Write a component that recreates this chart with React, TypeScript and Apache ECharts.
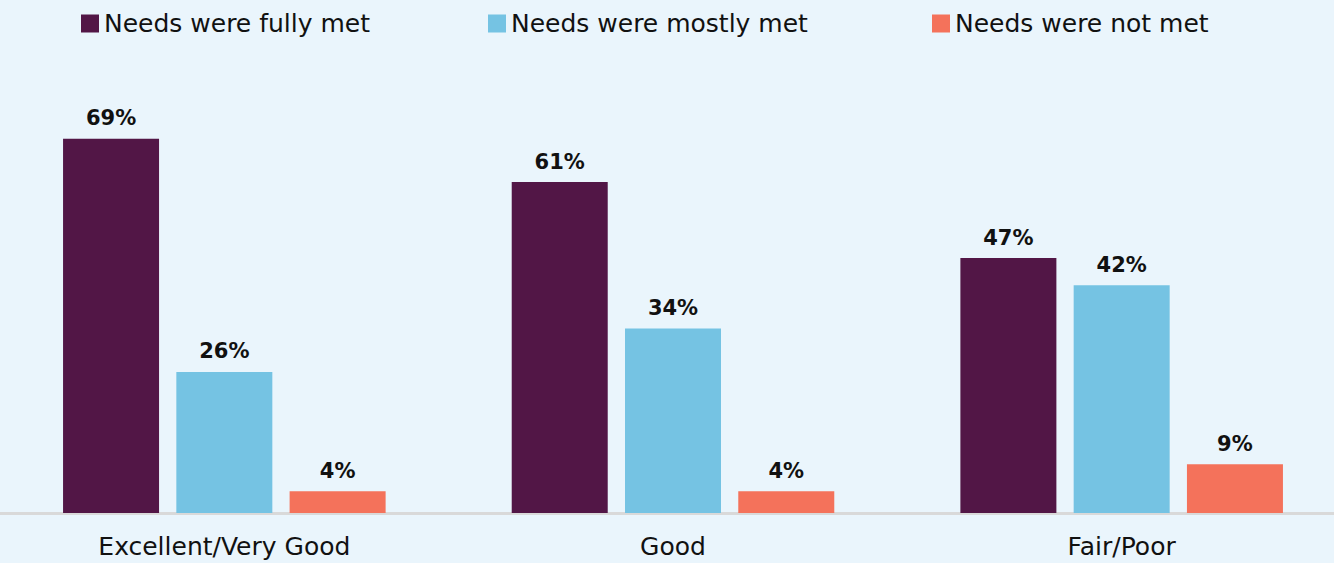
import React, { useEffect, useRef } from "react";
import * as echarts from "echarts";

const categories = ["Excellent/Very Good", "Good", "Fair/Poor"];
const seriesNames = ["Needs were fully met", "Needs were mostly met", "Needs were not met"];
const fullyMet = [69, 61, 47];
const mostlyMet = [26, 34, 42];
const notMet = [4, 4, 9];
const colors = ["#521646", "#75C3E3", "#F4725B"];
const legendLefts = [81, 488, 932];

const FONT = "'DejaVu Sans', sans-serif";

export default function App() {
  const ref = useRef<HTMLDivElement>(null);
  useEffect(() => {
    document.body.style.margin = "0";
    if (!ref.current) return;
    const chart = echarts.init(ref.current, null, { renderer: "svg" });
    const values = [fullyMet, mostlyMet, notMet];
    chart.setOption({
      animation: false,
      backgroundColor: "#EAF5FC",
      textStyle: { fontFamily: FONT },
      legend: seriesNames.map((n, i) => ({
        data: [n],
        left: legendLefts[i],
        top: 11,
        padding: 0,
        icon: "rect",
        itemWidth: 18,
        itemHeight: 18,
        selectedMode: false,
        textStyle: { fontSize: 25, color: "#111", fontFamily: FONT },
      })),
      grid: { left: 0, right: 0, top: 79, bottom: 50, containLabel: false },
      xAxis: {
        type: "category",
        data: categories,
        axisTick: { show: false },
        axisLine: { lineStyle: { color: "#D9D9D9", width: 3 } },
        axisLabel: { fontSize: 25, color: "#111", margin: 21, fontFamily: FONT },
      },
      yAxis: {
        type: "value",
        min: 0,
        max: 80,
        show: false,
        splitLine: { show: false },
      },
      series: seriesNames.map((n, i) => ({
        name: n,
        type: "bar",
        data: values[i],
        barWidth: 96,
        barGap: "18%",
        itemStyle: { color: colors[i] },
        label: {
          show: true,
          position: "top",
          distance: 10,
          formatter: "{c}%",
          fontSize: 21,
          fontWeight: "bold",
          color: "#111",
          fontFamily: FONT,
        },
      })),
    });
    return () => chart.dispose();
  }, []);
  return (
    <div style={{ width: 1334, height: 563, overflow: "hidden", background: "#EAF5FC" }}>
      <div ref={ref} style={{ width: 1346, height: 563 }} />
    </div>
  );
}
